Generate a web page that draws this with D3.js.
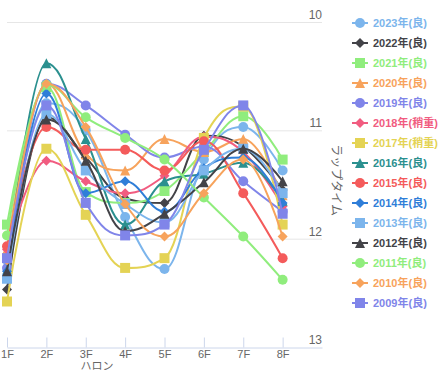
<!DOCTYPE html>
<html>
<head>
<meta charset="utf-8">
<script src="https://cdn.jsdelivr.net/npm/d3@7"></script>
<style>
  body { margin: 0; background: #fff; }
  svg { font-family: "Liberation Sans", "Noto Sans CJK JP", sans-serif; }
</style>
</head>
<body>
<div id="container"></div>
<script>
// DATA

const furlongs = ["1F", "2F", "3F", "4F", "5F", "6F", "7F", "8F"]
const yTicks = [10, 11, 12, 13]

const years = ["2023年(良)", "2022年(良)", "2021年(良)", "2020年(良)", "2019年(良)",
               "2018年(稍重)", "2017年(稍重)", "2016年(良)", "2015年(良)", "2014年(良)",
               "2013年(良)", "2012年(良)", "2011年(良)", "2010年(良)", "2009年(良)"]

const lap2023 = [12.2, 10.75, 11.0, 11.8, 12.28, 11.27, 10.97, 11.37]
const lap2022 = [12.47, 10.88, 11.25, 11.63, 11.67, 11.05, 11.15, 11.55]
const lap2021 = [11.87, 10.6, 11.57, 11.67, 11.56, 11.2, 10.87, 11.27]
const lap2020 = [12.1, 10.57, 11.22, 11.37, 11.08, 11.2, 11.08, 11.6]
const lap2019 = [12.27, 10.57, 10.77, 11.04, 11.25, 11.15, 11.47, 11.75]
const lap2018 = [12.1, 11.28, 11.47, 11.58, 11.42, 11.06, 11.2, 11.7]
const lap2017 = [12.58, 11.17, 11.78, 12.27, 12.18, 11.07, 10.78, 11.87]
const lap2016 = [12.29, 10.38, 11.08, 11.87, 11.47, 11.4, 11.3, 11.65]
const lap2015 = [12.07, 10.97, 11.18, 11.18, 11.37, 11.1, 11.58, 12.18]
const lap2014 = [12.3, 10.66, 11.58, 11.47, 11.75, 11.35, 11.25, 11.67]
const lap2013 = [12.37, 10.85, 11.37, 11.68, 11.85, 11.37, 11.17, 11.58]
const lap2012 = [12.3, 10.9, 11.28, 11.93, 11.77, 11.48, 11.17, 11.47]
const lap2011 = [11.97, 10.58, 10.88, 11.07, 11.27, 11.62, 11.98, 12.38]
const lap2010 = [12.2, 10.57, 10.97, 11.68, 11.98, 11.58, 11.27, 11.98]
const lap2009 = [12.18, 10.77, 11.67, 11.97, 11.87, 11.18, 10.77, 11.77]

const laps = [lap2023, lap2022, lap2021, lap2020, lap2019, lap2018, lap2017, lap2016,
              lap2015, lap2014, lap2013, lap2012, lap2011, lap2010, lap2009]

const colors = ["#7cb5ec", "#434348", "#90ed7d", "#f7a35c", "#8085e9", "#f15c80", "#e4d354",
                "#2b908f", "#f45b5b", "#2f7ed8", "#7cb5ec", "#434348", "#90ed7d", "#f7a35c", "#8085e9"]
const shapes = ["circle", "diamond", "square", "triangle"]

// VARIABLES

const width = 448,
      height = 373,
      plot = {left: 7, right: 322, top: 22, bottom: 347}

// SCALES

const xScale = d3.scaleLinear()
    .domain([0, furlongs.length])
    .range([plot.left, plot.right])

const yScale = d3.scaleLinear()
    .domain([10, 13])
    .range([plot.top, plot.bottom])

// spline like the charting lib: flat at extremes, control points at 1/2.5
function spline(pts) {
  const p = d3.path()
  const s = 1.5, den = s + 1
  let prevRight = null
  pts.forEach((pt, i) => {
    const [x, y] = pt
    if (i === 0) { p.moveTo(x, y); return }
    let lcx = x, lcy = y, rc = null
    const last = pts[i - 1], next = pts[i + 1]
    if (next) {
      lcx = (s * x + last[0]) / den
      lcy = (s * y + last[1]) / den
      let rcx = (s * x + next[0]) / den
      let rcy = (s * y + next[1]) / den
      let corr = 0
      if (rcx !== lcx) corr = ((rcy - lcy) * (rcx - x)) / (rcx - lcx) + y - rcy
      lcy += corr; rcy += corr
      if (lcy > last[1] && lcy > y) { lcy = Math.max(last[1], y); rcy = 2 * y - lcy }
      else if (lcy < last[1] && lcy < y) { lcy = Math.min(last[1], y); rcy = 2 * y - lcy }
      if (rcy > next[1] && rcy > y) { rcy = Math.max(next[1], y); lcy = 2 * y - rcy }
      else if (rcy < next[1] && rcy < y) { rcy = Math.min(next[1], y); lcy = 2 * y - rcy }
      rc = [rcx, rcy]
    }
    const c1 = prevRight || last
    p.bezierCurveTo(c1[0], c1[1], lcx, lcy, x, y)
    prevRight = rc
  })
  return p.toString()
}

function marker(shape, r) {
  if (shape === "circle") return `M${-r},0A${r},${r} 0 1,1 ${r},0A${r},${r} 0 1,1 ${-r},0Z`
  if (shape === "square") return `M${-r},${-r}H${r}V${r}H${-r}Z`
  if (shape === "diamond") return `M0,${-r}L${r},0L0,${r}L${-r},0Z`
  return `M0,${-r}L${r},${r}L${-r},${r}Z`
}

// ELEMENTS

const svg = d3.select("#container")
    .append("svg")
    .attr("width", width)
    .attr("height", height)

// grid lines
svg.append("g")
  .selectAll("line")
  .data(yTicks.slice(0, -1))
  .join("line")
    .attr("x1", plot.left)
    .attr("x2", plot.right)
    .attr("y1", d => yScale(d) + 0.5)
    .attr("y2", d => yScale(d) + 0.5)
    .attr("stroke", "#e6e6e6")

// x axis
const xAxis = d3.axisTop(xScale)
    .tickValues(d3.range(furlongs.length))
    .tickFormat(i => furlongs[i])
    .tickSize(10)
    .tickSizeOuter(0)

const gx = svg.append("g")
    .attr("transform", `translate(0,${plot.bottom + 0.5})`)
    .call(xAxis)
gx.select(".domain").attr("stroke", "#ccd6eb")
gx.selectAll(".tick line").attr("stroke", "#ccd6eb")
gx.selectAll(".tick text")
    .attr("y", 3)
    .attr("dy", "0.71em")
    .attr("fill", "#666")
    .attr("font-size", 11)

svg.append("text")
    .attr("x", 97)
    .attr("y", 370)
    .attr("text-anchor", "middle")
    .attr("fill", "#666")
    .attr("font-size", 11)
    .text("ハロン")

// y labels (right side, above grid lines)
svg.append("g")
  .selectAll("text")
  .data(yTicks)
  .join("text")
    .attr("x", plot.right)
    .attr("y", d => yScale(d) - 3)
    .attr("text-anchor", "end")
    .attr("fill", "#666")
    .attr("font-size", 12)
    .text(d => d)

svg.append("text")
    .attr("transform", `translate(332,180) rotate(90)`)
    .attr("text-anchor", "middle")
    .attr("fill", "#666")
    .attr("font-size", 12)
    .text("ラップタイム")

// SERIES

const series = svg.append("g")
  .selectAll("g")
  .data(laps)
  .join("g")

series.append("path")
    .attr("d", d => spline(d.map((v, i) => [xScale(i), yScale(v)])))
    .attr("fill", "none")
    .attr("stroke", (d, i) => colors[i])
    .attr("stroke-width", 2)

series.each(function (d, si) {
  d3.select(this).selectAll("path.m")
    .data(d)
    .join("path")
      .attr("class", "m")
      .attr("transform", (v, i) => `translate(${xScale(i)},${yScale(v)})`)
      .attr("d", marker(shapes[si % 4], 5))
      .attr("fill", colors[si])
})

// LEGEND

const legend = svg.append("g")
  .selectAll("g")
  .data(years)
  .join("g")
    .attr("transform", (d, i) => `translate(0,${23 + i * 20})`)

legend.append("line")
    .attr("x1", 352).attr("x2", 368)
    .attr("stroke", (d, i) => colors[i])
    .attr("stroke-width", 2)

legend.append("path")
    .attr("transform", "translate(360,0)")
    .attr("d", (d, i) => marker(shapes[i % 4], 5))
    .attr("fill", (d, i) => colors[i])

legend.append("text")
    .attr("x", 373)
    .attr("y", 4)
    .attr("font-size", 11)
    .attr("font-weight", "bold")
    .attr("fill", (d, i) => colors[i])
    .text(d => d)
</script>
</body>
</html>
